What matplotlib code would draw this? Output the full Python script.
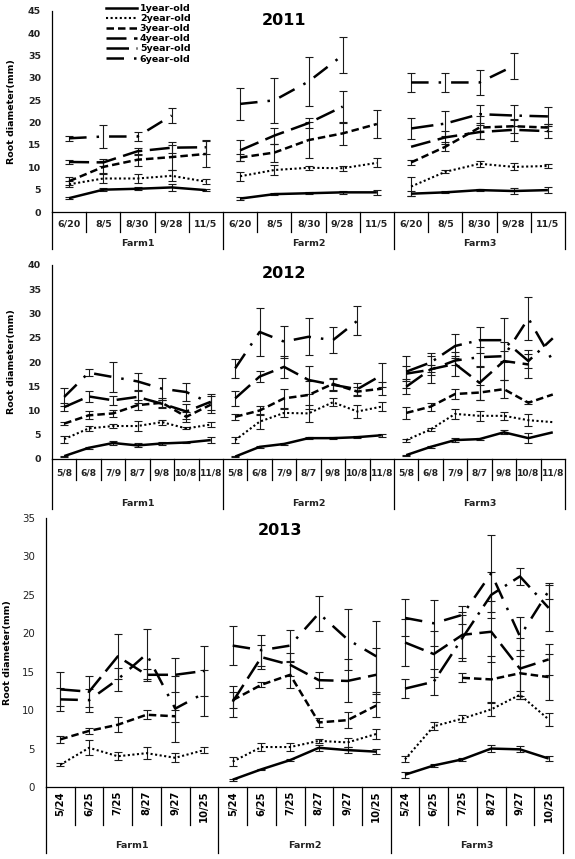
import numpy as np
import matplotlib
matplotlib.use('Agg')
import matplotlib.pyplot as plt
from matplotlib.lines import Line2D
from matplotlib.transforms import blended_transform_factory

nan = np.nan
ages = ['1year-old', '2year-old', '3year-old', '4year-old', '5year-old', '6year-old']
farms = ['Farm1', 'Farm2', 'Farm3']

# ---------------- 2011 (Farm1 | Farm2 | Farm3) ----------------
dates_2011 = ['6/20', '8/5', '8/30', '9/28', '11/5']
v2011_1 = [3.1, 5.0, 5.2, 5.5, 4.9,   3.0, 4.0, 4.2, 4.4, 4.4,   4.1, 4.4, 4.9, 4.7, 4.9]
e2011_1 = [0.2, 0.4, 0.3, 0.7, 0.3,   0.4, 0.2, 0.2, 0.4, 0.5,   0.6, 0.2, 0.3, 0.7, 0.7]
v2011_2 = [6.2, 7.5, 7.5, 8.1, 6.8,   8.0, 9.4, 9.9, 9.8, 11.0,  5.7, 9.0, 10.8, 10.1, 10.3]
e2011_2 = [0.7, 1.0, 1.0, 1.2, 0.5,   1.0, 1.2, 0.5, 0.6, 1.0,   2.2, 0.3, 0.7, 0.8, 0.5]
v2011_3 = [6.9, 10.1, 11.7, 12.3, 13.0,  12.2, 13.3, 16.1, 17.6, 19.7,  11.1, 14.6, 18.9, 19.2, 18.9]
e2011_3 = [0.9, 1.3, 1.3, 2.8, 3.0,   0.7, 2.0, 4.0, 2.5, 3.2,   0.5, 1.0, 2.5, 1.5, 0.7]
v2011_4 = [11.2, 11.1, 13.6, 14.4, 14.5,  13.8, 17.1, 19.9, 23.6, nan,  14.6, 16.7, 17.9, 18.4, 18.1]
e2011_4 = [0.4, 0.7, 0.8, 1.3, 1.6,   2.3, 1.8, 1.2, 3.6, 0,     0, 1.5, 1.5, 2.5, 1.5]
v2011_5 = [nan, nan, nan, nan, nan,   nan, nan, nan, nan, nan,   18.7, 19.8, 21.9, 21.6, 21.4]
e2011_5 = [0, 0, 0, 0, 0,             0, 0, 0, 0, 0,             2.4, 2.8, 2.0, 2.4, 2.2]
v2011_6 = [16.5, 16.9, 16.9, 21.6, nan,  24.2, 25.0, 29.2, 35.1, nan,  29.0, 29.0, 29.0, 32.7, nan]
e2011_6 = [0.5, 2.6, 1.1, 1.6, 0,     3.5, 5.0, 5.5, 4.0, 0,     2.2, 2.2, 2.7, 3.0, 0]

# ---------------- 2012 ----------------
dates_2012 = ['5/8', '6/8', '7/9', '8/7', '9/8', '10/8', '11/8']
v2012_1 = [0.6, 2.3, 3.3, 2.8, 3.2, 3.4, 3.9,   0.5, 2.5, 3.1, 4.3, 4.3, 4.5, 4.9,   0.8, 2.5, 3.9, 4.1, 5.5, 4.3, 5.5]
e2012_1 = [0.1, 0.2, 0.4, 0.4, 0.3, 0.2, 0.7,   0.1, 0.2, 0.3, 0.2, 0.2, 0.2, 0.3,   0.1, 0.2, 0.4, 0.2, 0.4, 1.0, 0]
v2012_2 = [4.1, 6.3, 6.8, 6.8, 7.6, 6.3, 7.1,   3.9, 7.7, 9.5, 9.4, 11.7, 9.8, 10.8, 3.9, 6.1, 9.3, 8.9, 8.9, 8.0, 7.6]
e2012_2 = [0.7, 0.6, 0.4, 1.0, 0.5, 0.2, 0.6,   0.7, 1.5, 0.8, 1.7, 0.8, 1.3, 1.0,   0.3, 0.3, 1.0, 1.0, 0.8, 1.2, 0]
v2012_3 = [7.3, 9.0, 9.4, 11.1, 11.6, 8.7, 11.2,  8.7, 10.0, 12.5, 13.2, 15.5, 13.9, 14.5,  9.5, 10.8, 13.4, 13.7, 14.4, 11.6, 13.3]
e2012_3 = [0.3, 0.8, 0.8, 1.0, 0.9, 1.0, 1.8,   0.6, 1.0, 2.0, 2.8, 1.3, 1.0, 1.3,   1.2, 0.8, 1.0, 1.5, 1.8, 0.3, 0]
v2012_4 = [10.7, 12.9, 12.1, 12.8, 11.4, 9.8, 11.8,  12.5, 17.0, 19.0, 16.3, 15.3, 14.4, 17.3,  14.9, 18.5, 19.6, 15.7, 20.2, 19.5, nan]
e2012_4 = [0.8, 1.2, 0.9, 1.2, 0.8, 1.5, 1.6,   1.6, 1.2, 2.3, 2.8, 1.2, 1.2, 2.5,   1.5, 2.8, 2.4, 3.5, 3.9, 2.9, 0]
v2012_5 = [nan, nan, nan, nan, nan, nan, nan,   nan, nan, nan, nan, nan, nan, nan,   18.0, 19.9, 23.3, 24.5, 24.5, 20.2, 24.9]
e2012_5 = [0, 0, 0, 0, 0, 0, 0,                 0, 0, 0, 0, 0, 0, 0,                 3.3, 2.0, 2.5, 2.7, 4.5, 1.5, 0]
v2012_6 = [12.8, 17.8, 16.9, 16.0, 14.5, 13.8, 11.5,  18.7, 26.2, 24.2, 25.2, 24.5, 28.5, nan,  17.6, 18.4, 20.3, 21.0, 21.2, 29.0, 20.2]
e2012_6 = [1.9, 0.7, 3.0, 1.7, 2.3, 1.8, 0,     2.0, 5.0, 3.3, 3.8, 2.7, 3.0, 0,     1.5, 1.0, 1.0, 2.0, 1.0, 4.5, 0]

# ---------------- 2013 ----------------
dates_2013 = ['5/24', '6/25', '7/25', '8/27', '9/27', '10/25']
v2013_1 = [nan, nan, nan, nan, nan, nan,   0.95, 2.3, 3.5, 5.1, 4.8, 4.6,   1.6, 2.8, 3.6, 5.0, 4.9, 3.7]
e2013_1 = [0, 0, 0, 0, 0, 0,               0.15, 0.1, 0.1, 0.4, 0.4, 0.3,   0.4, 0.2, 0.2, 0.4, 0.4, 0.3]
v2013_2 = [2.9, 5.1, 4.0, 4.4, 3.8, 4.8,   3.3, 5.2, 5.2, 6.0, 5.8, 6.9,    3.6, 7.9, 8.9, 10.1, 12.0, 8.8]
e2013_2 = [0.2, 1.0, 0.5, 0.8, 0.6, 0.4,   0.6, 0.5, 0.5, 0.3, 0.6, 0.6,    0.4, 0.5, 0.5, 0.8, 0.5, 0.8]
v2013_3 = [6.2, 7.3, 8.1, 9.4, 9.2, nan,   11.3, 13.3, 14.6, 8.4, 8.7, 10.6,  nan, nan, 14.2, 14.0, 14.8, 14.3]
e2013_3 = [0.5, 0.4, 1.0, 0.6, 0.8, 0,     1.0, 0.3, 1.7, 0.6, 1.0, 1.5,     0, 0, 0.6, 3.0, 3.0, 3.0]
v2013_4 = [12.7, 12.4, 17.0, 14.6, 14.6, 15.1,  11.1, 16.9, 15.9, 13.9, 13.8, 14.6,  18.8, 17.3, 19.8, 20.2, 15.4, 16.6]
e2013_4 = [2.2, 2.0, 2.9, 0.8, 2.2, 3.2,   2.0, 1.6, 1.5, 1.0, 2.8, 3.5,     3.0, 3.0, 3.0, 4.0, 4.0, 2.0]
v2013_5 = [nan, nan, nan, nan, nan, nan,   nan, nan, nan, nan, nan, nan,   12.8, 13.7, 19.4, 25.0, 27.4, 23.3]
e2013_5 = [0, 0, 0, 0, 0, 0,               0, 0, 0, 0, 0, 0,               1.2, 1.7, 3.0, 3.0, 1.1, 3.0]
v2013_6 = [11.4, 11.3, 14.0, 17.3, 10.2, 12.2,  18.4, 17.8, 18.4, 22.6, 19.2, 17.0,  22.0, 21.3, 22.4, 27.8, 19.6, 25.5]
e2013_6 = [1.5, 1.5, 1.5, 3.3, 4.3, 3.0,   2.5, 2.0, 2.0, 2.3, 4.0, 4.6,     2.4, 3.0, 1.2, 5.0, 2.5, 1.0]

styles = {
    '1year-old': dict(ls='-', lw=1.8),
    '2year-old': dict(ls=(0, (1, 1.2)), lw=1.5),
    '3year-old': dict(ls=(0, (3, 1.6)), lw=1.8),
    '4year-old': dict(ls=(0, (8, 3)), lw=1.8),
    '5year-old': dict(ls=(0, (9, 3, 1, 3)), lw=1.8),
    '6year-old': dict(ls=(0, (7, 4, 1, 4)), lw=1.8),
}

W, H = 575, 859
fig = plt.figure(figsize=(W / 100, H / 100), dpi=100)


def add_axes(left, right, top, bottom):
    return fig.add_axes([left / W, 1 - bottom / H, (right - left) / W, (bottom - top) / H])


def draw_panel(ax, dates, vals, errs, ymax, ystep, title, bold_ticks, tick_fs):
    nd = len(dates)
    n = nd * len(farms)
    for age, v, e in zip(ages, vals, errs):
        v = np.array(v, dtype=float)
        e = np.array(e, dtype=float)
        for f in range(len(farms)):
            xs = np.arange(f * nd, (f + 1) * nd)
            ys = v[f * nd:(f + 1) * nd]
            es = e[f * nd:(f + 1) * nd]
            if np.all(np.isnan(ys)):
                continue
            ax.plot(xs, ys, color='black', solid_capstyle='butt', zorder=3, **styles[age])
            m = (~np.isnan(ys)) & (es > 0)
            if m.any():
                ax.errorbar(xs[m], ys[m], yerr=es[m], fmt='none', ecolor='#1a1a1a',
                            elinewidth=0.8, capsize=2.6, capthick=0.8, zorder=2)
    ax.set_xlim(-0.5, n - 0.5)
    ax.set_ylim(0, ymax)
    ax.set_yticks(np.arange(0, ymax + 1, ystep))
    ax.set_xticks([])
    for s in ['top', 'right']:
        ax.spines[s].set_visible(False)
    ax.spines['left'].set_linewidth(0.9)
    ax.spines['bottom'].set_linewidth(0.9)
    ax.tick_params(axis='y', length=0, pad=8, labelsize=tick_fs, labelcolor='#222222')
    if bold_ticks:
        for lab in ax.get_yticklabels():
            lab.set_fontweight('bold')
    ax.text(0.452, 0.955, title, transform=ax.transAxes, ha='center', va='center',
            fontsize=11.5, fontweight='bold')
    ax.set_ylabel('Root diameter(mm)', fontsize=6.8, fontweight='bold')


def draw_table(ax, dates, date_y, date_sep, farm_y, farm_sep, rotate, date_fs):
    nd = len(dates)
    n = nd * len(farms)
    tr = blended_transform_factory(ax.transData, ax.transAxes)
    for i in range(n):
        if rotate:
            ax.text(i, date_y, dates[i % nd], transform=tr, ha='center', va='top',
                    rotation=90, fontsize=date_fs, fontweight='bold')
        else:
            ax.text(i, date_y, dates[i % nd], transform=tr, ha='center', va='center',
                    fontsize=date_fs, fontweight='bold', color='#222222')
    for b in range(n + 1):
        bottom = farm_sep if b % nd == 0 else date_sep
        ax.plot([b - 0.5, b - 0.5], [0, bottom], transform=tr, color='black',
                lw=0.9, clip_on=False)
    for f, name in enumerate(farms):
        ax.text(f * nd + (nd - 1) / 2, farm_y, name, transform=tr, ha='center',
                va='center', fontsize=6.8, fontweight='bold', color='#222222')


# 2011 panel
ax1 = add_axes(52, 565, 11, 212)
draw_panel(ax1, dates_2011,
           [v2011_1, v2011_2, v2011_3, v2011_4, v2011_5, v2011_6],
           [e2011_1, e2011_2, e2011_3, e2011_4, e2011_5, e2011_6],
           45, 5, '2011', True, 6.8)
draw_table(ax1, dates_2011, -12 / 201, -20 / 201, -32 / 201, -37 / 201, False, 6.8)
ax1.yaxis.set_label_coords(-0.07, 0.5)

handles = [Line2D([], [], color='black', **styles[a]) for a in ages]
ax1.legend(handles, ages, loc='upper left', bbox_to_anchor=(0.105, 1.035),
           frameon=False, borderpad=0, borderaxespad=0, handlelength=3.3,
           handletextpad=0.3, labelspacing=0.12,
           prop=dict(size=6.8, weight='bold'))

# 2012 panel
ax2 = add_axes(52, 565, 265, 459)
draw_panel(ax2, dates_2012,
           [v2012_1, v2012_2, v2012_3, v2012_4, v2012_5, v2012_6],
           [e2012_1, e2012_2, e2012_3, e2012_4, e2012_5, e2012_6],
           40, 5, '2012', True, 6.8)
draw_table(ax2, dates_2012, -14 / 194, -21 / 194, -44 / 194, -50 / 194, False, 6.6)
ax2.yaxis.set_label_coords(-0.07, 0.5)

# 2013 panel
ax3 = add_axes(46, 563, 518, 787)
draw_panel(ax3, dates_2013,
           [v2013_1, v2013_2, v2013_3, v2013_4, v2013_5, v2013_6],
           [e2013_1, e2013_2, e2013_3, e2013_4, e2013_5, e2013_6],
           35, 5, '2013', False, 7.4)
draw_table(ax3, dates_2013, -4 / 269, -38 / 269, -58 / 269, -66 / 269, True, 7.2)
ax3.yaxis.set_label_coords(-0.066, 0.5)

fig.savefig('out.png', dpi=100, facecolor='white')
